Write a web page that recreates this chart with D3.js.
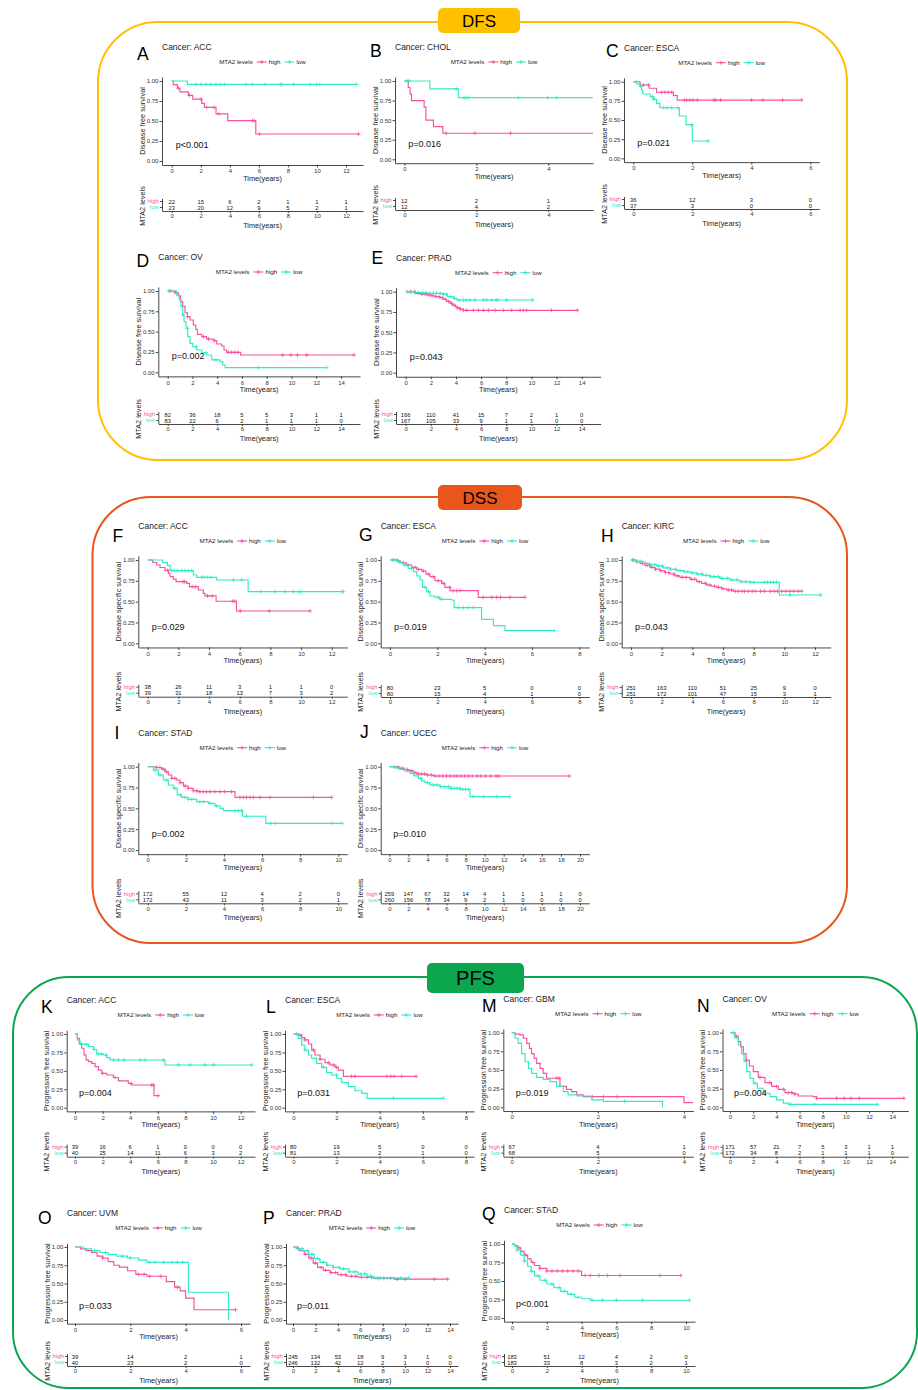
<!DOCTYPE html>
<html><head><meta charset="utf-8">
<script src="https://cdn.jsdelivr.net/npm/d3@7"></script>
<style>body{margin:0;background:#fff} svg{display:block;font-family:"Liberation Sans",Arial,Helvetica,sans-serif}</style>
</head><body><svg id="c" width="918" height="1390"></svg>
<script>
// ---------------- DATA ----------------
const panelLetters = ["A","B","C","D","E","F","G","H","I","J","K","L","M","N","O","P","Q"];
const cancerTypes = ["ACC","CHOL","ESCA","OV","PRAD","ACC","ESCA","KIRC","STAD","UCEC","ACC","ESCA","GBM","OV","UVM","PRAD","STAD"];
const endpoints = ["DFS","DFS","DFS","DFS","DFS","DSS","DSS","DSS","DSS","DSS","PFS","PFS","PFS","PFS","PFS","PFS","PFS"];
const yTitles = {DFS:"Disease free survival", DSS:"Disease specific survival", PFS:"Progression free survival"};
const pValues = ["p<0.001","p=0.016","p=0.021","p=0.002","p=0.043","p=0.029","p=0.019","p=0.043","p=0.002","p=0.010","p=0.004","p=0.031","p=0.019","p=0.004","p=0.033","p=0.011","p<0.001"];
const maxTick = [12,4,6,14,14,12,8,12,10,20,12,8,4,14,6,14,10];
const yTickValues = [0,0.25,0.5,0.75,1];
const groupLabels = ["high","low"];
const sectionNames = ["DFS","DSS","PFS"];

const riskHigh = [
 [22,15,6,2,1,1,1],[12,2,1],[36,12,3,0],[82,36,18,5,5,3,1,1],[166,110,41,15,7,2,1,0],
 [38,26,11,3,1,1,0],[80,23,5,0,0],[251,163,110,51,25,9,0],[172,55,12,4,2,0],[259,147,67,32,14,4,1,1,1,1,0],
 [39,16,6,1,0,0,0],[80,19,5,0,0],[67,4,1],[171,57,21,7,5,3,1,1],[39,14,2,1],[245,134,53,18,9,3,1,0],[183,51,12,4,2,0]
];
const riskLow = [
 [23,20,12,9,5,2,1],[12,4,2],[37,3,0,0],[83,22,6,2,1,1,1,0],[167,105,33,9,1,1,0,0],
 [39,31,18,13,7,3,2],[80,15,4,1,0],[251,172,101,47,15,3,1],[172,43,11,3,2,1],[260,156,78,34,9,2,1,0,0,0,0],
 [40,25,14,11,6,3,2],[81,13,2,1,0],[68,5,0],[172,34,8,2,1,1,1,0],[40,23,2,0],[246,132,42,12,2,1,0,0],[183,33,8,3,2,1]
];

const highCurves = [
 [[0,1],[0.11,0.955],[0.39,0.91],[0.57,0.864],[1.15,0.82],[1.45,0.773],[2.07,0.72],[2.25,0.67],[3.05,0.59],[3.86,0.505],[5.79,0.337],[12.87,0.337]],
 [[0,1],[0.11,0.917],[0.16,0.833],[0.2,0.75],[0.55,0.667],[0.6,0.5],[0.81,0.417],[1.07,0.333],[5.24,0.333]],
 [[0,1],[0.23,0.957],[0.54,0.914],[0.79,0.862],[1.36,0.82],[1.49,0.76],[5.71,0.76]],
 [[0,1],[0.59,0.98],[0.86,0.94],[1.05,0.87],[1.21,0.81],[1.4,0.733],[1.59,0.684],[1.8,0.643],[2.07,0.582],[2.26,0.529],[2.4,0.467],[2.75,0.438],[3.15,0.41],[3.69,0.389],[3.96,0.348],[4.36,0.323],[4.55,0.274],[4.76,0.246],[5.89,0.213],[15.05,0.213]],
 [[0,1],[0.74,0.98],[1.2,0.97],[1.67,0.96],[2.0,0.95],[2.33,0.94],[2.7,0.925],[2.99,0.907],[3.25,0.88],[3.52,0.858],[3.7,0.835],[3.92,0.817],[4.1,0.8],[4.32,0.785],[4.59,0.77],[13.65,0.77]],
 [[0,1],[0.33,0.97],[0.59,0.94],[0.8,0.91],[1.13,0.875],[1.35,0.84],[1.46,0.8],[1.67,0.77],[1.85,0.74],[2.54,0.72],[2.72,0.68],[3.3,0.64],[3.63,0.6],[3.74,0.57],[4.46,0.505],[5.79,0.388],[10.59,0.388]],
 [[0,1],[0.28,0.99],[0.42,0.967],[0.7,0.94],[0.92,0.912],[1.13,0.888],[1.34,0.868],[1.52,0.832],[1.69,0.8],[1.9,0.752],[2.18,0.72],[2.32,0.672],[2.54,0.632],[3.73,0.552],[5.7,0.552]],
 [[0,1],[0.3,0.98],[0.59,0.96],[0.9,0.935],[1.24,0.912],[1.55,0.89],[1.89,0.872],[2.2,0.85],[2.54,0.832],[2.85,0.81],[3.19,0.792],[3.85,0.768],[4.28,0.74],[4.6,0.72],[4.93,0.7],[5.25,0.685],[5.58,0.672],[5.9,0.655],[6.24,0.64],[6.67,0.625],[11.13,0.625]],
 [[0,1],[0.47,0.99],[0.73,0.97],[0.91,0.94],[1.08,0.9],[1.26,0.86],[1.52,0.84],[1.7,0.808],[1.87,0.768],[2.13,0.74],[2.39,0.712],[2.6,0.7],[4.58,0.632],[9.65,0.632]],
 [[0,1],[0.5,0.995],[1.12,0.98],[1.6,0.965],[2.0,0.952],[2.52,0.928],[2.87,0.912],[3.92,0.9],[4.62,0.888],[18.86,0.888]],
 [[0,1],[0.17,0.94],[0.31,0.87],[0.48,0.806],[0.65,0.716],[0.8,0.648],[0.97,0.625],[1.21,0.602],[1.45,0.557],[1.7,0.51],[1.94,0.466],[2.3,0.444],[2.78,0.41],[3.14,0.365],[3.86,0.33],[4.1,0.308],[5.72,0.163],[6.03,0.163]],
 [[0,1],[0.23,0.985],[0.39,0.95],[0.54,0.92],[0.7,0.865],[0.85,0.783],[1.0,0.715],[1.24,0.657],[1.47,0.61],[1.7,0.58],[1.94,0.548],[2.09,0.51],[2.32,0.425],[5.69,0.425]],
 [[0,1],[0.08,0.98],[0.19,0.97],[0.27,0.925],[0.35,0.857],[0.41,0.79],[0.46,0.72],[0.52,0.656],[0.58,0.589],[0.66,0.522],[0.73,0.455],[0.81,0.39],[1.12,0.28],[1.27,0.24],[1.39,0.21],[1.51,0.166],[1.66,0.143],[4.0,0.062],[4.21,0.062]],
 [[0,1],[0.43,0.95],[0.72,0.88],[0.92,0.81],[1.15,0.72],[1.38,0.63],[1.67,0.553],[2.01,0.478],[2.44,0.402],[3.02,0.33],[3.59,0.28],[4.17,0.24],[4.74,0.196],[5.46,0.178],[5.89,0.152],[7.18,0.143],[7.47,0.12],[15.0,0.12]],
 [[0,1],[0.2,0.975],[0.4,0.95],[0.6,0.925],[0.8,0.875],[1.0,0.85],[1.2,0.8],[1.4,0.75],[1.6,0.725],[1.9,0.675],[2.2,0.625],[2.6,0.6],[3.3,0.525],[3.6,0.45],[3.8,0.4],[4.0,0.3],[4.3,0.14],[5.8,0.14]],
 [[0,1],[0.3,0.98],[0.6,0.95],[1.0,0.9],[1.4,0.85],[1.8,0.78],[2.2,0.72],[2.7,0.68],[3.3,0.65],[4.0,0.62],[4.8,0.6],[5.8,0.585],[7.2,0.57],[9.0,0.56],[13.8,0.56]],
 [[0,1],[0.15,0.98],[0.3,0.95],[0.5,0.9],[0.7,0.85],[0.9,0.8],[1.1,0.75],[1.3,0.71],[1.6,0.67],[2.0,0.635],[4.0,0.575],[9.7,0.575]]
];
const lowCurves = [
 [[0,1],[1.08,0.957],[12.71,0.957]],
 [[0,1],[0.71,0.9],[1.5,0.787],[5.24,0.787]],
 [[0,1],[0.11,0.97],[0.23,0.94],[0.28,0.89],[0.32,0.839],[0.57,0.805],[0.68,0.77],[0.79,0.718],[0.9,0.66],[1.56,0.552],[1.79,0.439],[2.0,0.226],[2.54,0.226]],
 [[0,1],[0.72,0.95],[0.94,0.89],[1.07,0.81],[1.21,0.706],[1.32,0.623],[1.48,0.541],[1.62,0.439],[1.8,0.356],[2.02,0.315],[2.34,0.274],[2.75,0.241],[3.15,0.213],[3.56,0.152],[4.23,0.131],[4.45,0.09],[4.64,0.057],[12.84,0.057]],
 [[0,1],[0.6,0.99],[1.67,0.98],[2.99,0.97],[3.31,0.94],[3.79,0.917],[4.06,0.897],[10.1,0.897]],
 [[0,1],[0.98,0.968],[1.28,0.936],[1.46,0.873],[2.98,0.82],[3.2,0.792],[4.5,0.76],[6.55,0.62],[12.76,0.62]],
 [[0,1],[0.35,0.976],[0.56,0.94],[0.77,0.9],[0.99,0.86],[1.13,0.808],[1.27,0.76],[1.38,0.672],[1.55,0.62],[1.69,0.568],[1.9,0.552],[2.11,0.528],[2.6,0.52],[2.71,0.428],[3.87,0.288],[4.37,0.212],[4.86,0.152],[6.94,0.152]],
 [[0,1],[0.3,0.985],[0.8,0.96],[1.2,0.945],[1.67,0.928],[2.1,0.905],[2.54,0.888],[3.0,0.872],[3.41,0.86],[3.85,0.845],[4.28,0.832],[4.7,0.815],[5.15,0.8],[5.8,0.78],[6.45,0.76],[7.1,0.74],[7.76,0.732],[9.67,0.58],[12.37,0.58]],
 [[0,1],[0.3,0.96],[0.56,0.9],[0.82,0.84],[1.08,0.78],[1.34,0.74],[1.55,0.66],[1.78,0.632],[2.13,0.608],[2.57,0.58],[3.18,0.56],[3.53,0.528],[3.8,0.5],[3.97,0.472],[4.98,0.405],[6.2,0.32],[10.2,0.32]],
 [[0,1],[0.6,0.985],[1.12,0.968],[1.7,0.945],[2.17,0.92],[2.6,0.89],[3.05,0.86],[3.4,0.83],[3.75,0.808],[4.27,0.78],[5.32,0.76],[6.37,0.74],[7.42,0.728],[8.47,0.64],[12.59,0.64]],
 [[0,1],[0.17,0.92],[0.36,0.86],[0.97,0.83],[1.33,0.79],[1.57,0.728],[2.05,0.715],[2.3,0.68],[2.54,0.647],[6.52,0.58],[12.8,0.58]],
 [[0,1],[0.23,0.94],[0.39,0.85],[0.54,0.783],[0.7,0.715],[0.85,0.67],[1.08,0.602],[1.31,0.548],[1.54,0.476],[1.78,0.444],[2.01,0.4],[2.24,0.34],[2.55,0.285],[2.86,0.23],[3.17,0.195],[3.42,0.127],[6.95,0.127]],
 [[0,1],[0.08,0.925],[0.15,0.857],[0.23,0.72],[0.31,0.61],[0.39,0.522],[0.46,0.455],[0.58,0.402],[0.73,0.375],[0.89,0.344],[1.04,0.28],[1.2,0.21],[1.31,0.166],[1.51,0.152],[1.86,0.1],[2.13,0.08],[3.5,0]],
 [[0,1],[0.43,0.925],[0.72,0.835],[1.0,0.72],[1.21,0.61],[1.44,0.478],[1.72,0.388],[2.01,0.32],[2.36,0.255],[2.87,0.188],[3.45,0.143],[4.02,0.1],[4.6,0.055],[5.03,0.04],[12.7,0.04]],
 [[0,1],[0.3,0.975],[0.6,0.95],[0.9,0.925],[1.2,0.9],[1.5,0.875],[1.9,0.85],[2.3,0.82],[2.6,0.79],[4.1,0.38],[5.55,0]],
 [[0,1],[0.4,0.98],[0.9,0.95],[1.4,0.9],[1.9,0.84],[2.4,0.79],[3.0,0.75],[3.6,0.72],[4.2,0.7],[5.0,0.66],[5.8,0.63],[6.6,0.6],[7.2,0.575],[10.3,0.575]],
 [[0,1],[0.15,0.97],[0.3,0.92],[0.5,0.85],[0.7,0.77],[0.9,0.7],[1.1,0.63],[1.3,0.57],[1.6,0.51],[2.0,0.46],[2.4,0.41],[2.8,0.36],[3.2,0.32],[3.6,0.28],[4.0,0.26],[4.5,0.24],[10.2,0.24]]
];
const highCensors = [
 [0.46,1.22,2.02,2.41,2.92,3.24,5.56,5.68,6.04,12.87],
 [1.16,1.96,2.95],
 [0.34,0.51,0.96,1.07,1.19,1.30,1.73,1.81,1.92,2.03,2.17,2.73,2.80,2.96,4.01,4.39,5.06,5.71],
 [0.2,0.6,1.6,2.9,3.3,3.8,4.9,5.16,5.43,5.7,9.29,9.94,10.48,11.23,15.05],
 [0.35,0.7,1.0,1.3,1.55,1.85,2.1,2.4,2.65,2.9,3.15,3.4,3.65,3.85,4.1,4.35,4.6,4.85,5.38,5.78,6.18,6.58,7.11,7.77,8.43,9.1,9.36,9.62,11.6,13.65],
 [1.3,2.3,2.4,2.9,3.1,3.9,4.2,5.55,5.68,6.04,7.93,10.59],
 [0.14,0.35,0.56,0.77,1.06,1.2,1.41,1.62,1.83,2.04,2.25,2.53,2.67,2.82,2.96,3.94,4.3,4.51,4.67,5.07,5.7],
 [0.15,0.4,0.75,1.05,1.35,1.6,1.95,2.25,2.45,2.8,3.05,3.35,3.6,3.95,4.15,4.45,4.85,5.1,5.45,5.7,6.0,6.35,6.55,6.8,7.0,7.25,7.4,7.65,7.9,8.1,8.45,8.7,9.1,9.35,9.55,9.85,10.1,10.35,10.6,10.9,11.13],
 [0.47,0.64,0.82,0.99,1.26,1.43,1.7,1.96,2.13,2.39,2.57,2.74,2.92,3.09,3.27,3.53,3.79,4.05,4.4,4.84,5.02,5.19,5.37,5.54,5.89,6.42,8.69,9.65],
 [0.9,1.4,1.9,2.3,2.7,3.1,3.4,3.7,4.0,4.4,4.8,5.2,5.6,6.0,6.4,6.8,7.1,7.5,7.9,8.3,8.7,9.2,9.6,10.1,10.6,11.2,11.5,18.86],
 [2.0,2.9,4.06,5.56,5.68,6.03],
 [0.32,0.54,0.93,1.24,1.62,1.85,2.0,2.7,2.86,4.33,4.51,4.66,5.02,5.69],
 [1.05,1.1,1.87,2.13,2.45],
 [0.57,1.43,2.59,3.45,4.02,4.6,5.03,5.32,5.6,7.47,9.2,9.85,10.43,11.15,15.0],
 [1.0,2.3,2.5,2.7,3.1,3.7,5.8],
 [0.5,1.1,1.6,2.0,2.5,2.9,3.4,3.8,4.3,4.7,5.2,5.6,6.1,6.6,7.0,7.6,8.1,8.7,9.3,10.0,12.6,13.8],
 [0.4,0.8,1.2,1.6,2.0,2.3,2.6,2.9,3.2,3.5,3.8,4.2,4.5,5.0,5.5,6.2,8.5,9.7]
];
const lowCensors = [
 [1.68,2.02,2.37,2.69,3.05,3.33,3.63,5.12,5.55,6.43,7.47,7.59,8.39,9.54,9.96,10.19,12.71],
 [0.07,0.13,1.44,1.66,1.71,1.78,3.17,3.98,4.23],
 [0.09,0.24,0.65,0.71,1.03,1.15,1.30,1.51,1.98,2.54],
 [0.1,1.25,1.6,2.3,3.1,3.9,7.32,12.84],
 [0.15,0.45,0.75,1.05,1.35,1.6,1.9,2.2,2.45,2.75,3.0,3.25,3.55,3.9,4.25,4.6,4.85,5.12,5.51,6.18,6.44,6.84,7.18,7.31,8.03,10.1],
 [1.57,1.72,1.93,2.22,2.43,2.65,2.87,3.52,3.67,3.89,4.1,5.59,6.13,7.37,8.3,8.96,9.5,9.83,9.98,12.65,12.76],
 [0.14,0.28,0.42,0.63,0.92,1.48,1.62,2.04,2.18,2.89,3.1,3.31,3.52,6.94],
 [0.1,0.35,0.6,0.95,1.3,1.55,1.8,2.05,2.35,2.6,2.9,3.2,3.5,3.7,4.0,4.35,4.6,4.9,5.2,5.4,5.7,5.95,6.3,6.6,6.9,7.2,7.5,7.8,8.0,8.7,8.9,9.1,9.3,9.5,10.37,12.37],
 [0.38,0.64,0.99,1.43,1.7,1.96,2.13,2.31,2.74,2.92,3.27,3.62,4.58,4.76,4.93,5.19,6.45,6.7,9.65,10.2],
 [0.5,1.0,1.5,2.5,3.3,4.0,4.6,5.0,5.4,5.8,6.2,6.5,6.8,7.1,7.4,7.7,8.0,8.3,8.8,9.87,11.26,12.59],
 [0.48,0.8,1.4,1.69,1.93,2.25,2.78,3.14,3.55,4.71,5.07,6.4,7.49,8.33,9.42,10.03,12.8],
 [0.16,0.54,1.39,2.0,4.64,6.95],
 [2.62],
 [0.29,1.15,2.15,5.23,7.27,12.7],
 [0.7,1.1,1.7,2.0,2.7,2.9,3.2,3.5,3.7,3.9],
 [0.4,0.8,1.3,1.7,2.2,2.7,3.1,3.6,4.1,4.5,5.0,5.5,6.0,6.4,6.9,7.4,7.8,8.4,9.0,9.6,10.3],
 [0.3,0.7,1.1,1.5,1.9,2.3,2.7,3.0,3.4,3.8,4.6,5.2,6.0,7.5,10.2]
];

// ---------------- LAYOUT / STYLE ----------------
const PINK = "#F7529E", CYAN = "#30EBC6";
const sectionColors = ["#FFC000","#E8561E","#0BA64E"];
const sectionFrames = [
 {x:98,y:22,w:749,h:438,r:60},{x:92.5,y:497,w:754.5,h:446,r:58},{x:13,y:977,w:904,h:411,r:56}
];
const sectionBadges = [
 {x:438,y:8,w:82,h:25,fs:17},{x:438,y:485,w:84,h:25,fs:17},{x:427,y:963,w:97,h:30,fs:20}
];
const layout = [
 {L:162,R:363,x0:171.7,xm:346,T:81,B:161,line:211,lx:137,ly:60},
 {L:395,R:593,x0:404.3,xm:548.3,T:81,B:159.3,line:210,lx:370,ly:57},
 {L:624,R:819.3,x0:633.3,xm:810.3,T:81.7,B:158.3,line:209,lx:606,ly:57},
 {L:158.3,R:360,x0:167.7,xm:341,T:291,B:372.3,line:424,lx:136.5,ly:267},
 {L:396,R:600.7,x0:405.7,xm:581.7,T:291.7,B:372.7,line:424,lx:371.5,ly:264},
 {L:138.3,R:347.3,x0:147.7,xm:331.7,T:560,B:643.3,line:696.7,lx:112.5,ly:542},
 {L:380.7,R:589.3,x0:390,xm:579.3,T:560,B:643.3,line:697,lx:359,ly:541},
 {L:621.7,R:830.7,x0:631,xm:815,T:560,B:643.3,line:697,lx:601,ly:542},
 {L:138.3,R:347.3,x0:147.7,xm:338.3,T:766.7,B:850,line:903.3,lx:114.5,ly:739},
 {L:380.7,R:589.3,x0:389.3,xm:580,T:766.7,B:850,line:903.3,lx:360,ly:738},
 {L:66.7,R:255,x0:75,xm:240.7,T:1034,B:1107.7,line:1156.7,lx:41,ly:1013},
 {L:285,R:474,x0:293.3,xm:466,T:1034,B:1107.7,line:1156.7,lx:266,ly:1013},
 {L:503.3,R:693.3,x0:511.7,xm:684,T:1032.7,B:1107.3,line:1156.7,lx:482,ly:1012},
 {L:722.5,R:908.3,x0:730,xm:892.3,T:1032.7,B:1107.3,line:1156.7,lx:697,ly:1012},
 {L:67,R:250,x0:75,xm:241,T:1247,B:1320,line:1366,lx:38,ly:1224},
 {L:286,R:458,x0:293,xm:450,T:1247,B:1320,line:1366,lx:263,ly:1224},
 {L:504,R:695,x0:512,xm:686,T:1244,B:1318,line:1366,lx:482,ly:1220}
];

const svg = d3.select("#c");
svg.append("rect").attr("width",918).attr("height",1390).attr("fill","#fff");

// sections
sectionNames.forEach((nm,k)=>{
  const f = sectionFrames[k], b = sectionBadges[k];
  svg.append("rect").attr("x",f.x).attr("y",f.y).attr("width",f.w).attr("height",f.h)
    .attr("rx",f.r).attr("ry",f.r).attr("fill","none").attr("stroke",sectionColors[k]).attr("stroke-width",2);
  svg.append("rect").attr("x",b.x).attr("y",b.y).attr("width",b.w).attr("height",b.h)
    .attr("rx",5).attr("fill",sectionColors[k]);
  svg.append("text").attr("x",b.x+b.w/2).attr("y",b.y+b.h/2+b.fs*0.36).attr("text-anchor","middle")
    .attr("font-size",b.fs).attr("fill","#000").text(nm);
});

function survAt(curve,t){ let s=1; for(const p of curve){ if(p[0]<=t) s=p[1]; } return s; }
function styleAxis(sel, fs){
  sel.selectAll("path,line").attr("stroke","#333").attr("stroke-width",0.9);
  sel.selectAll("text").attr("font-size",fs).attr("fill","#333").attr("font-family",null);
  sel.attr("font-family",null);
}

function drawPanel(i){
  const lay = layout[i];
  const g = svg.append("g");
  const ticks = d3.range(0, maxTick[i]+0.001, 2);
  const base = d3.scaleLinear().domain([0,maxTick[i]]).range([lay.x0,lay.xm]);
  const x = d3.scaleLinear().domain([base.invert(lay.L), base.invert(lay.R)]).range([lay.L, lay.R]);
  const h = lay.B - lay.T;
  const y = d3.scaleLinear().domain([-0.05,1.05]).range([lay.B+0.05*h, lay.T-0.05*h]);
  const yBot = y(-0.05);

  // letter and title
  g.append("text").attr("x",lay.lx).attr("y",lay.ly).attr("font-size",17.5).attr("fill","#000").text(panelLetters[i]);
  g.append("text").attr("x",lay.L).attr("y",lay.T-31).attr("font-size",8.5).attr("fill","#222").text("Cancer: "+cancerTypes[i]);

  // legend
  const lg = g.append("g");
  const t1 = lg.append("text").attr("x",0).attr("y",0).attr("font-size",6.2).attr("fill","#222").text("MTA2 levels");
  let cx = t1.node().getComputedTextLength()+4;
  [[groupLabels[0],PINK],[groupLabels[1],CYAN]].forEach(([lab,col])=>{
    lg.append("line").attr("x1",cx).attr("x2",cx+10).attr("y1",-2).attr("y2",-2).attr("stroke",col).attr("stroke-width",1.1);
    lg.append("path").attr("d",`M${cx+3},-2h4M${cx+5},-4v4`).attr("stroke",col).attr("stroke-width",0.9);
    const tt = lg.append("text").attr("x",cx+12).attr("y",0).attr("font-size",6.2).attr("fill","#222").text(lab);
    cx += 12 + tt.node().getComputedTextLength() + 4;
  });
  lg.attr("transform",`translate(${(lay.L+lay.R)/2-(cx-4)/2},${lay.T-17})`);

  // axes
  const ax = g.append("g").attr("transform",`translate(0,${yBot})`)
    .call(d3.axisBottom(x).tickValues(ticks).tickFormat(d3.format("d")).tickSize(2.5).tickSizeOuter(0).tickPadding(1.5));
  styleAxis(ax,6);
  const ay = g.append("g").attr("transform",`translate(${lay.L},0)`)
    .call(d3.axisLeft(y).tickValues(yTickValues).tickFormat(d3.format(".2f")).tickSize(2.5).tickSizeOuter(0).tickPadding(1.2));
  styleAxis(ay,6);

  g.append("text").attr("transform",`translate(${lay.L-20},${(lay.T+lay.B)/2}) rotate(-90)`)
    .attr("text-anchor","middle").attr("dy","0.35em").attr("font-size",7.3).attr("fill","#222").text(yTitles[endpoints[i]]);
  g.append("text").attr("x",(lay.L+lay.R)/2).attr("y",yBot+13).attr("dy","0.35em").attr("text-anchor","middle")
    .attr("font-size",7.3).attr("fill","#222").text("Time(years)");

  // curves
  const line = d3.line().x(d=>x(d[0])).y(d=>y(d[1])).curve(d3.curveStepAfter);
  [[highCurves[i],highCensors[i],PINK],[lowCurves[i],lowCensors[i],CYAN]].forEach(([c,cs,col])=>{
    g.append("path").attr("d",line(c)).attr("fill","none").attr("stroke",col).attr("stroke-width",1.15);
    g.append("path").attr("d",cs.map(t=>{const px=x(t),py=y(survAt(c,t));return `M${px-2},${py}h4M${px},${py-2}v4`;}).join(""))
      .attr("fill","none").attr("stroke",col).attr("stroke-width",0.8);
  });

  // p value
  g.append("text").attr("x",lay.x0+4).attr("y",y(0.2)+3.3).attr("font-size",9).attr("fill","#111").text(pValues[i]);

  // risk table
  const rows = d3.scaleBand().domain(groupLabels).range([lay.line-12.5, lay.line-0.5]);
  const ry = g.append("g").attr("transform",`translate(${lay.L},0)`)
    .call(d3.axisLeft(rows).tickSize(2).tickSizeOuter(0).tickPadding(1.2));
  styleAxis(ry,6);
  ry.selectAll("text").attr("fill",d=>d==="high"?PINK:CYAN);
  const rx = g.append("g").attr("transform",`translate(0,${lay.line})`)
    .call(d3.axisBottom(x).tickValues(ticks).tickFormat(d3.format("d")).tickSize(2).tickSizeOuter(0).tickPadding(1.2));
  styleAxis(rx,6);
  [[riskHigh[i],"high"],[riskLow[i],"low"]].forEach(([vals,key])=>{
    g.append("g").selectAll("text").data(vals).join("text")
      .attr("x",(d,k)=>x(ticks[k])).attr("y",rows(key)+rows.bandwidth()/2).attr("dy","0.35em")
      .attr("text-anchor","middle").attr("font-size",5.8).attr("fill","#111").text(d=>d);
  });
  g.append("text").attr("transform",`translate(${lay.L-20},${lay.line-5}) rotate(-90)`)
    .attr("text-anchor","middle").attr("dy","0.35em").attr("font-size",7.3).attr("fill","#222").text("MTA2 levels");
  g.append("text").attr("x",(lay.L+lay.R)/2).attr("y",lay.line+14.5).attr("dy","0.35em").attr("text-anchor","middle")
    .attr("font-size",7.3).attr("fill","#222").text("Time(years)");
}

panelLetters.forEach((_,i)=>drawPanel(i));
</script></body></html>
